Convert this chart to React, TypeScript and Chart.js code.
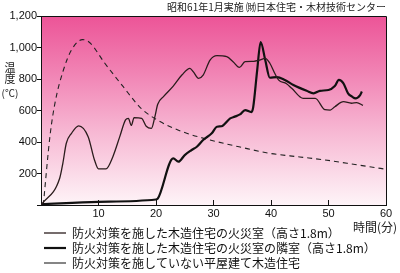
import React, { useEffect, useRef } from 'react';
import { Chart, registerables } from 'chart.js';

Chart.register(...registerables);

// ---- text ----
const TITLE = '昭和61年1月実施 ㈶日本住宅・木材技術センター';
const Y_TITLE = ['温', '度', '(℃)'];
const X_TITLE = '時間(分)';
const SERIES_LABELS = [
  '防火対策を施した木造住宅の火災室（高さ1.8m）',
  '防火対策を施した木造住宅の火災室の隣室（高さ1.8m）',
  '防火対策を施していない平屋建て木造住宅',
];

// ---- axes ----
const X_MIN = 0;
const X_MAX = 60;
const X_STEP = 10;
const Y_MIN = 0;
const Y_MAX = 1200;
const Y_STEP = 200;

// ---- series 1: fire room (protected house), thin line ----
const fireRoomTime = [0, 3.25, 3.8, 4.4, 5.3, 6.55, 8.2, 9.3, 10, 11.3, 12.5, 13.7, 14.7, 15.2, 15.7, 16.2, 17.5, 18.3, 19.2, 19.8, 20.3, 21.3, 23, 24.5, 25.9, 26.5, 27.4, 28.2, 29.4, 30.6, 32.3, 33.4, 34.5, 35.5, 37, 38, 39, 39.8, 40.6, 41.3, 42.7, 43.6, 45.6, 47.7, 49.4, 50.3, 51.1, 52.6, 54, 54.9, 56];
const fireRoomTemp = [0, 170, 265, 392, 455, 503, 434, 286, 229, 229, 307, 434, 540, 550, 505, 555, 550, 500, 487, 560, 640, 688, 755, 825, 868, 845, 804, 825, 920, 948, 942, 910, 874, 910, 912, 920, 931, 900, 840, 794, 770, 741, 677, 677, 605, 603, 624, 656, 646, 650, 632];

// ---- series 2: neighbouring room (protected house), thick line ----
const nextRoomTime = [0, 10, 20, 20.3, 23, 23.9, 25, 26.2, 27.1, 28.2, 29.7, 30.6, 31.4, 32.9, 33.7, 34.6, 35.5, 36.6, 36.9, 37.6, 38.2, 39, 39.8, 41, 42.4, 43.9, 46.2, 47.4, 48.5, 50, 51.1, 51.8, 52.6, 53.4, 54.1, 54.7, 55.5, 55.8];
const nextRoomTemp = [5, 20, 35, 40, 296, 275, 317, 349, 370, 413, 455, 497, 500, 550, 561, 575, 603, 590, 620, 857, 1035, 920, 808, 812, 794, 762, 725, 709, 725, 730, 755, 794, 773, 709, 688, 677, 698, 720];

// ---- series 3: unprotected single-storey house, dashed ----
const plainHouseTime = [0.4, 1.6, 2.5, 3.9, 5.3, 7.2, 8.5, 11.1, 14.3, 17.4, 20.7, 25, 29.4, 35, 39.8, 45, 49.4, 55, 60];
const plainHouseTemp = [0, 450, 660, 857, 984, 1050, 1030, 900, 751, 614, 530, 460, 413, 365, 328, 305, 286, 255, 227];

const toPoints = (xs: number[], ys: number[]) => xs.map((x, i) => ({ x, y: ys[i] }));

const CJK = '"Noto Sans CJK JP", "Liberation Sans", sans-serif';
const LATIN = '"Liberation Sans", Arial, sans-serif';

const decor = {
  id: 'decor',
  beforeDraw(chart: any) {
    const { ctx, chartArea: a } = chart;
    const g = ctx.createLinearGradient(0, a.top, 0, a.bottom);
    g.addColorStop(0, '#ec5497');
    g.addColorStop(0.3, '#f183b4');
    g.addColorStop(0.62, '#f7b9d4');
    g.addColorStop(1, '#fef4f8');
    ctx.save();
    ctx.fillStyle = g;
    ctx.fillRect(a.left, a.top, a.right - a.left, a.bottom - a.top);
    ctx.restore();
  },
  afterDraw(chart: any) {
    const { ctx, chartArea: a } = chart;
    ctx.save();
    ctx.strokeStyle = '#111';
    ctx.lineWidth = 1;
    ctx.beginPath();
    ctx.moveTo(Math.round(a.left), Math.round(a.top) + 0.5);
    ctx.lineTo(Math.round(a.right) + 0.5, Math.round(a.top) + 0.5);
    ctx.lineTo(Math.round(a.right) + 0.5, Math.round(a.bottom));
    ctx.stroke();

    ctx.fillStyle = '#222';
    ctx.textAlign = 'center';
    ctx.textBaseline = 'middle';
    ctx.font = `11px ${CJK}`;
    ctx.fillText(Y_TITLE[0], 10, 68);
    ctx.fillText(Y_TITLE[1], 10, 79);
    ctx.font = `10px ${CJK}`;
    ctx.fillText(Y_TITLE[2], 10, 93);

    ctx.font = `12px ${CJK}`;
    ctx.textAlign = 'right';
    ctx.fillText(X_TITLE, 397, 227);
    ctx.restore();
  },
};

export default function App() {
  const ref = useRef<HTMLCanvasElement>(null);

  useEffect(() => {
    document.body.style.margin = '0';
    const canvas = ref.current!;
    const chart = new Chart(canvas, {
      type: 'line',
      data: {
        datasets: [
          {
            label: SERIES_LABELS[0],
            data: toPoints(fireRoomTime, fireRoomTemp),
            borderColor: '#2a1c1c',
            borderWidth: 1.3,
            pointRadius: 0,
            cubicInterpolationMode: 'monotone',
          },
          {
            label: SERIES_LABELS[1],
            data: toPoints(nextRoomTime, nextRoomTemp),
            borderColor: '#111',
            borderWidth: 2.2,
            pointRadius: 0,
            cubicInterpolationMode: 'monotone',
          },
          {
            label: SERIES_LABELS[2],
            data: toPoints(plainHouseTime, plainHouseTemp),
            borderColor: '#222',
            borderWidth: 1.1,
            borderDash: [5, 4],
            pointRadius: 0,
            cubicInterpolationMode: 'monotone',
          },
        ],
      },
      options: {
        responsive: false,
        devicePixelRatio: 1,
        animation: false,
        layout: { padding: { top: 0, left: 0, right: 14, bottom: 0 } },
        scales: {
          x: {
            type: 'linear',
            min: X_MIN,
            max: X_MAX,
            afterFit: (s: any) => { s.height = 19; },
            grid: { drawOnChartArea: false, tickLength: -5, color: '#111' },
            border: { color: '#111', width: 1 },
            ticks: {
              stepSize: X_STEP,
              padding: 7,
              color: '#111',
              font: { family: LATIN, size: 11 },
              callback: (v: any) => (v === 0 ? '' : String(v)),
            },
          },
          y: {
            min: Y_MIN,
            max: Y_MAX,
            afterFit: (s: any) => { s.width = 41; },
            grid: { drawOnChartArea: false, tickLength: 4, color: '#111' },
            border: { color: '#111', width: 1 },
            ticks: {
              stepSize: Y_STEP,
              padding: 0,
              color: '#111',
              font: { family: LATIN, size: 11 },
              callback: (v: any) => (v === 0 ? '' : Number(v).toLocaleString('en-US')),
            },
          },
        },
        plugins: {
          title: {
            display: true,
            text: TITLE,
            align: 'end',
            color: '#222',
            font: { family: CJK, size: 10, weight: 'normal' },
            padding: { top: 1, bottom: 3 },
          },
          legend: {
            display: true,
            position: 'bottom',
            align: 'start',
            fullSize: false,
            maxHeight: 49,
            labels: {
              usePointStyle: true,
              pointStyle: 'line',
              pointStyleWidth: 22,
              padding: 3,
              color: '#111',
              font: { family: CJK, size: 12 },
            },
          },
          tooltip: { enabled: false },
        },
      },
      plugins: [decor],
    } as any);
    return () => chart.destroy();
  }, []);

  return (
    <div style={{ width: 400, height: 273 }}>
      <canvas ref={ref} width={400} height={273} style={{ display: 'block' }} />
    </div>
  );
}
